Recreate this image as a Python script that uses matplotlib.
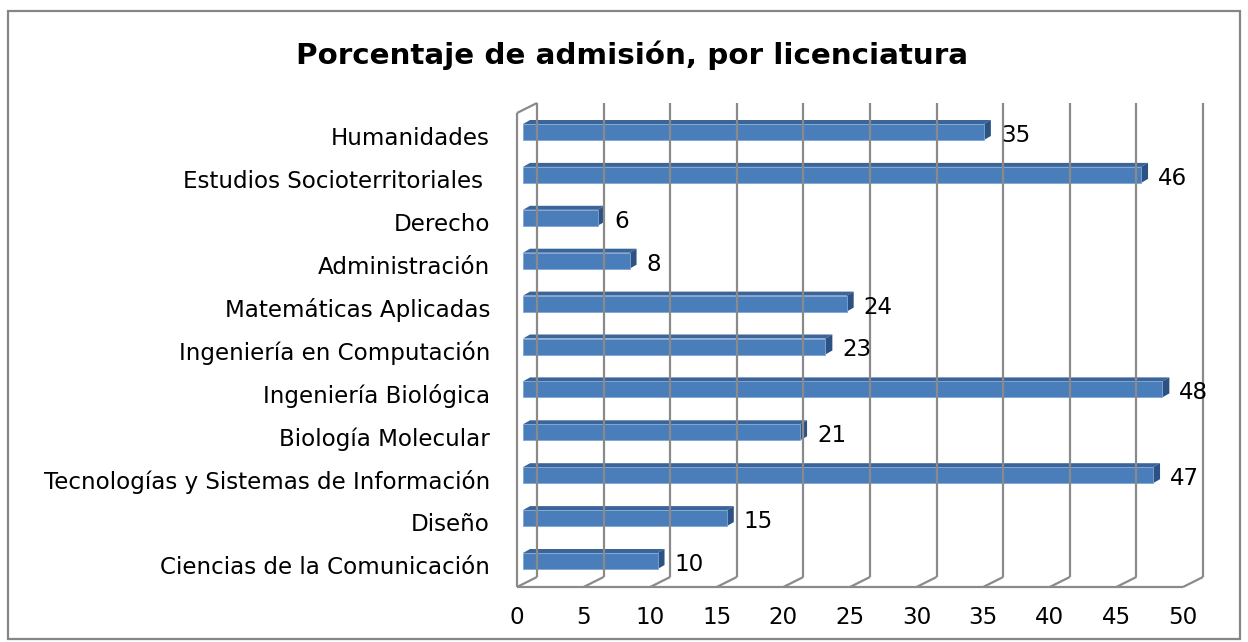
import matplotlib
matplotlib.use("Agg")
import matplotlib.pyplot as plt
from matplotlib.patches import Polygon, Rectangle
from matplotlib.transforms import IdentityTransform
import numpy as np

# data, bottom to top as drawn
categories = [
    "Ciencias de la Comunicación",
    "Diseño",
    "Tecnologías y Sistemas de Información",
    "Biología Molecular",
    "Ingeniería Biológica",
    "Ingeniería en Computación",
    "Matemáticas Aplicadas",
    "Administración",
    "Derecho",
    "Estudios Socioterritoriales ",
    "Humanidades",
]
values = [10.1, 15.3, 47.3, 20.8, 48.0, 22.7, 24.3, 8.0, 5.6, 46.4, 34.6]
x_ticks = [0, 5, 10, 15, 20, 25, 30, 35, 40, 45, 50]
title = "Porcentaje de admisión, por licenciatura"

W, H = 1248, 642
fig = plt.figure(figsize=(W / 100, H / 100), dpi=100)
fig.patch.set_facecolor("white")

FONT = "DejaVu Sans"
FS = 16.6

# front plane of the 3d box, in pixels from top-left
px_left, px_right = 517, 1183
px_floor, px_top = 587, 113
first_center, last_center = 561, 132
step = (first_center - last_center) / (len(categories) - 1)

ax = fig.add_axes([px_left / W, (H - px_floor) / H,
                   (px_right - px_left) / W, (px_floor - px_top) / H])
ax.set_xlim(0, 50)
ylo = -(px_floor - first_center) / step
yhi = (len(categories) - 1) + (last_center - px_top) / step
ax.set_ylim(ylo, yhi)
ax.axis("off")

DEPTH = np.array([20.0, 10.0])   # back wall offset in px
grid_c = "#8a8a8a"
lw = 1.6


def px(x, y, d=(0, 0)):
    p = ax.transData.transform((x, y))
    return p + np.asarray(d, dtype=float)


def line(p0, p1):
    ax.add_line(plt.Line2D([p0[0], p1[0]], [p0[1], p1[1]], color=grid_c, lw=lw,
                           transform=IdentityTransform(), clip_on=False,
                           solid_capstyle="butt"))


# back wall gridlines + floor diagonals
for t in x_ticks:
    line(px(t, ylo, DEPTH), px(t, yhi, DEPTH))
    line(px(t, ylo), px(t, ylo, DEPTH))
# front floor edge and left wall
line(px(0, ylo), px(50, ylo))
line(px(0, ylo), px(0, yhi))
line(px(0, yhi), px(0, yhi, DEPTH))

# bars
bar_h = 16 / step
front_off = (6, 0)
top_off = (7, 4)
c_front, c_top, c_side = "#4a7ebb", "#3b6498", "#2c5283"
for i, (cat, v) in enumerate(zip(categories, values)):
    bl = px(0, i - bar_h / 2, front_off)
    tr = px(v, i + bar_h / 2, front_off)
    br = np.array([tr[0], bl[1]])
    tl = np.array([bl[0], tr[1]])
    o = np.array(top_off)
    ax.add_patch(Polygon([tl, tr, tr + o, tl + o], closed=True, fc=c_top, ec="none",
                         transform=IdentityTransform(), clip_on=False))
    ax.add_patch(Polygon([br, tr, tr + o, br + o], closed=True, fc=c_side, ec="none",
                         transform=IdentityTransform(), clip_on=False))
    ax.add_patch(Rectangle(bl, tr[0] - bl[0], tr[1] - bl[1], fc=c_front,
                           ec="#7ea6d6", lw=0.6,
                           transform=IdentityTransform(), clip_on=False))
    # value label
    lp = px(v, i, front_off)
    fig.text((lp[0] + 7 + 10) / W, (lp[1] - 1) / H, f"{v:.0f}", ha="left",
             va="center_baseline", fontsize=FS, family=FONT)
    # category label
    cp = px(0, i)
    fig.text(490 / W, (cp[1] - 4) / H, cat, ha="right", va="center_baseline",
             fontsize=FS, family=FONT)

# x tick labels
for t in x_ticks:
    p = px(t, ylo)
    fig.text(p[0] / W, (H - 615) / H, str(t), ha="center", va="center_baseline",
             fontsize=FS, family=FONT)

fig.text(632 / W, (H - 52) / H, title, ha="center", va="center_baseline",
         fontsize=21.2, fontweight="bold", family=FONT)

# outer frame
fig.add_artist(Rectangle((8, 3), 1232, 628, fill=False, ec="#868686", lw=1.6,
                         transform=IdentityTransform()))

fig.savefig("out.png", dpi=100)
